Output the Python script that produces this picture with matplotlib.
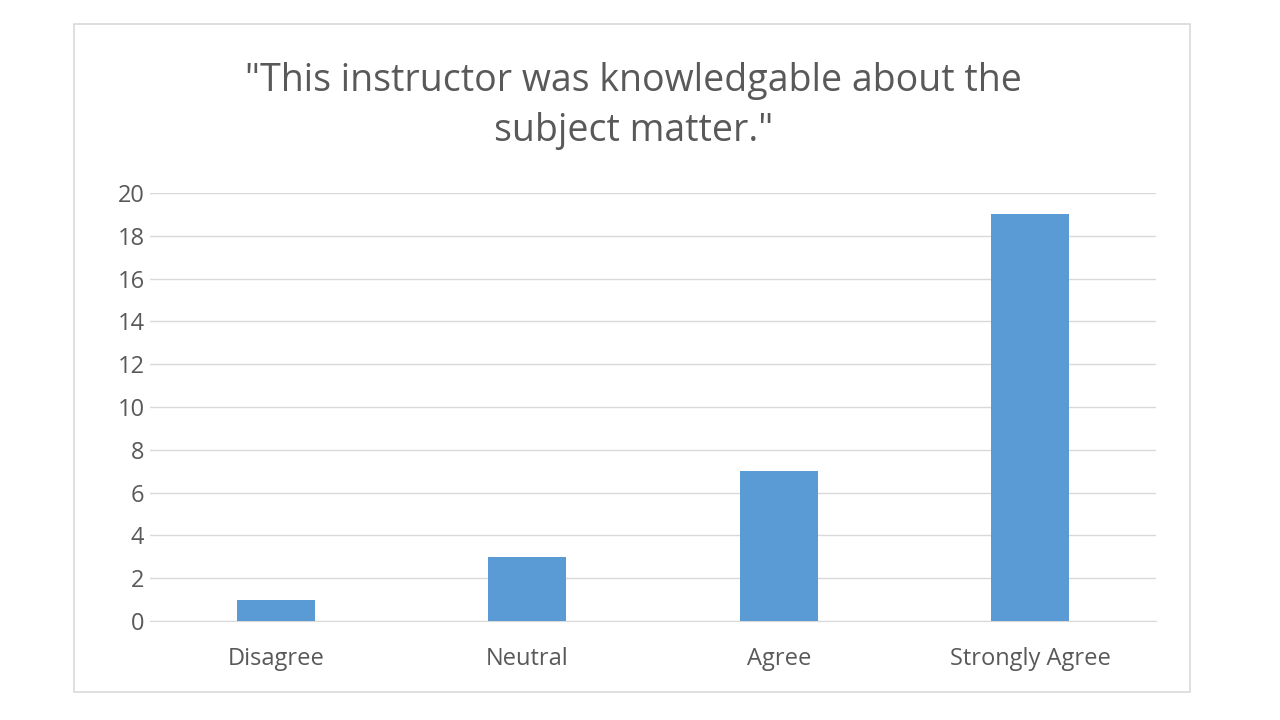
import matplotlib
matplotlib.use('Agg')
import matplotlib.pyplot as plt
from matplotlib.patches import Rectangle

categories = ["Disagree", "Neutral", "Agree", "Strongly Agree"]
counts = [1, 3, 7, 19]
yticks = list(range(0, 21, 2))

plt.rcParams['font.family'] = ['Open Sans', 'DejaVu Sans']

fig = plt.figure(figsize=(12.8, 7.2), dpi=100)
fig.patch.set_facecolor('white')

# outer chart frame
fig.patches.append(Rectangle((74 / 1280, 1 - 692 / 720), 1116 / 1280, 668 / 720,
                             transform=fig.transFigure, fill=False,
                             edgecolor='#D9D9D9', linewidth=1.2))

ax = fig.add_axes([150 / 1280, 1 - 621 / 720, 1006 / 1280, 428 / 720])
x = range(len(categories))
ax.bar(x, counts, width=0.31, color='#5B9BD5', zorder=3)

ax.set_xlim(-0.5, len(categories) - 0.5)
ax.set_ylim(0, 20)
ax.set_yticks(yticks)
ax.set_xticks(list(x))
ax.set_xticklabels(categories)
ax.yaxis.grid(True, color='#D9D9D9', linewidth=1, zorder=0)
ax.tick_params(axis='both', length=0, labelsize=17, colors='#595959')
ax.tick_params(axis='x', pad=19)
ax.tick_params(axis='y', pad=4)
for side in ['top', 'right', 'left']:
    ax.spines[side].set_visible(False)
ax.spines['bottom'].set_color('#D9D9D9')

fig.text(0.495, 1 - 106 / 720,
         '"This instructor was knowledgable about the\nsubject matter."',
         ha='center', va='center', fontsize=27, color='#595959',
         linespacing=1.42)

fig.savefig('out.png', dpi=100)
